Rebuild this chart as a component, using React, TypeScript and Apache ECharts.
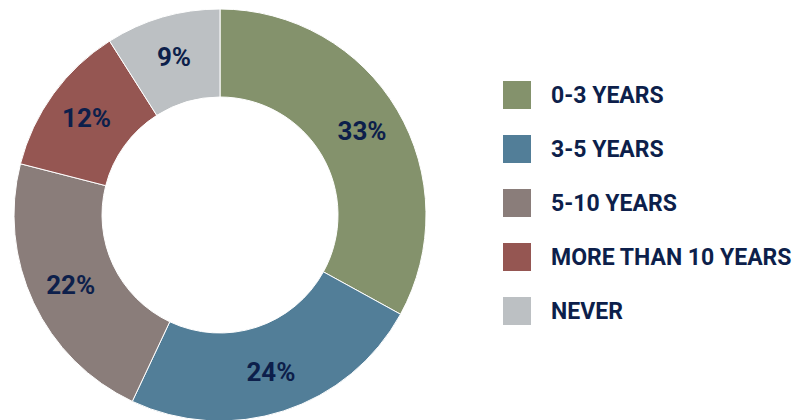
import React, { useEffect, useRef } from "react";
import * as echarts from "echarts";

const categories = ["0-3 YEARS", "3-5 YEARS", "5-10 YEARS", "MORE THAN 10 YEARS", "NEVER"];
const values = [33, 24, 22, 12, 9];
const colors = ["#84926c", "#527e98", "#8a7d7a", "#955652", "#bcc0c3"];

const FONT = "Roboto, 'Noto Sans', sans-serif";
const TEXT_COLOR = "#0d1f4b";

export default function App() {
  const ref = useRef<HTMLDivElement>(null);
  useEffect(() => {
    document.body.style.margin = "0";
    if (!ref.current) return;
    const chart = echarts.init(ref.current, undefined, { renderer: "svg" });
    chart.setOption({
      animation: false,
      color: colors,
      legend: {
        orient: "vertical",
        left: 496,
        top: 74,
        icon: "rect",
        itemWidth: 30,
        itemHeight: 30,
        itemGap: 22,
        data: categories,
        textStyle: {
          fontFamily: FONT,
          fontWeight: "bold",
          fontSize: 23,
          lineHeight: 30,
          color: TEXT_COLOR,
          padding: [0, 0, 0, 14],
        },
      },
      series: [
        {
          type: "pie",
          center: [220, 215],
          radius: [118, 206],
          startAngle: 90,
          clockwise: true,
          itemStyle: { borderColor: "#ffffff", borderWidth: 1 },
          label: {
            show: true,
            position: "inside",
            formatter: "{c}%",
            fontFamily: FONT,
            fontWeight: "bold",
            fontSize: 26,
            color: TEXT_COLOR,
          },
          labelLine: { show: false },
          emphasis: { disabled: true },
          data: categories.map((name, i) => ({ name, value: values[i] })),
        },
      ],
    });
    return () => chart.dispose();
  }, []);
  return <div ref={ref} style={{ width: 800, height: 420 }} />;
}
